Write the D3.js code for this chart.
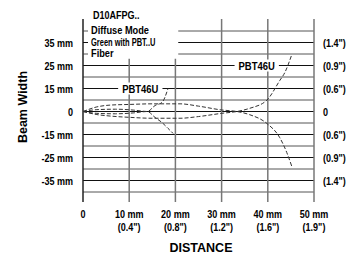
<!DOCTYPE html>
<html>
<head>
<meta charset="utf-8">
<script src="https://cdn.jsdelivr.net/npm/d3@7"></script>
<style>
  body { margin: 0; background: #fff; }
  text { font-family: "Liberation Sans", Arial, sans-serif; font-weight: bold; fill: #000; }
</style>
</head>
<body>
<div id="chart"></div>
<script>
// distance axis
const distTicks = [0, 10, 20, 30, 40, 50]
const distLabels = ["0", "10 mm", "20 mm", "30 mm", "40 mm", "50 mm"]
const distInch = ["", "(0.4\")", "(0.8\")", "(1.2\")", "(1.6\")", "(1.9\")"]

// beam width axis (grid is evenly spaced but the values are not)
const gridLevels = [40, 35, 30, 25, 20, 15, 7.5, 0, -7.5, -15, -20, -25, -30, -35, -40]
const labelLevels = [35, 25, 15, 0, -15, -25, -35]
const leftLabels = ["35 mm", "25 mm", "15 mm", "0", "-15 mm", "-25 mm", "-35 mm"]
const rightLabels = ["(1.4\")", "(0.9\")", "(0.6\")", "0", "(0.6\")", "(0.9\")", "(1.4\")"]

const legendLines = ["Diffuse Mode", "Green with PBT..U", "Fiber"]
const legendLevels = [40, 35, 30]

// PBT46U wide beam, [distance mm, width mm]
const beamUp = [[0, 0], [3, -2], [6, -3], [10, -3.8], [15, -4.4], [21, -4.4], [25, -3.3], [30, -1.2],
  [33.3, 0], [36, 2], [39.8, 7.4], [42.6, 18.5], [43.7, 22], [45.2, 29.8]]
const beamDown = [[0, 0], [3, 3], [6, 4.2], [10, 4.6], [15, 5], [21, 5], [25, 3.5], [30, 1],
  [33.3, 0], [36, -2], [39.8, -7.8], [42.6, -16.4], [44.1, -22.8], [45.2, -28.9]]
// PBT46U focused beam
const focusUp = [[0, 0], [3, 1.2], [7, 1.5], [11, 0.9], [13.9, 0], [15.6, 3.9], [17.1, 5.9], [18.4, 15]]
const focusDown = [[0, 0], [3, -1.2], [7, -1.5], [11, -0.9], [13.9, 0], [15.6, -3.9], [17.1, -7.2], [18.4, -11], [19.5, -14.3]]

const w = 356
const h = 254
const pLeft = 83, pRight = 314
const pTop = 31, step = 11.5

const svg = d3.select("#chart").append("svg")
    .attr("width", w)
    .attr("height", h)

const xScale = d3.scaleLinear().domain([0, 50]).range([pLeft, pRight])
const yScale = d3.scaleLinear()
    .domain(gridLevels.slice().reverse())
    .range(gridLevels.map((d, i) => pTop + i * step).reverse())

const yTop = pTop - 12
const yBottom = yScale(-40) + 10

// squeeze text to look like a condensed face
function narrow(sel, f) {
    sel.each(function () {
        const len = this.getComputedTextLength()
        if (len > 0) d3.select(this).attr("textLength", len * (f || 0.82)).attr("lengthAdjust", "spacingAndGlyphs")
    })
}

// horizontal grid
svg.append("g").selectAll("line")
    .data(gridLevels)
    .enter().append("line")
    .attr("x1", pLeft).attr("x2", pRight)
    .attr("y1", d => yScale(d)).attr("y2", d => yScale(d))
    .attr("stroke", d => labelLevels.includes(d) ? "#111" : "#555")
    .attr("stroke-width", 1)

// vertical grid
svg.append("g").selectAll("line")
    .data(distTicks)
    .enter().append("line")
    .attr("x1", d => xScale(d)).attr("x2", d => xScale(d))
    .attr("y1", yTop).attr("y2", yBottom)
    .attr("stroke", d => d == 0 ? "#222" : "#777")
    .attr("stroke-width", 1.5)

// legend block covers the top-left grid
svg.append("rect")
    .attr("x", pLeft + 1).attr("y", yTop - 1)
    .attr("width", xScale(20.4) - pLeft).attr("height", yScale(27.5) - yTop)
    .attr("fill", "#fff")

svg.append("text")
    .attr("x", pLeft + 10).attr("y", 18.5)
    .style("font-size", "11px")
    .text("D10AFPG..")
    .call(narrow)

legendLines.forEach((t, i) => {
    const y = yScale(legendLevels[i])
    svg.append("line")
        .attr("x1", pLeft).attr("x2", pLeft + 5)
        .attr("y1", y).attr("y2", y)
        .attr("stroke", i == 1 ? "#111" : "#555")
    svg.append("text")
        .attr("x", pLeft + 8).attr("y", y + 3)
        .style("font-size", "11px")
        .text(t)
        .call(narrow, i == 1 ? 0.68 : 0.84)
})

// beam curves
const line = d3.line()
    .x(d => xScale(d[0]))
    .y(d => yScale(d[1]))
    .curve(d3.curveMonotoneX)

svg.append("g").selectAll("path")
    .data([beamUp, beamDown, focusUp, focusDown])
    .enter().append("path")
    .attr("d", line)
    .attr("fill", "none")
    .attr("stroke", "#333")
    .attr("stroke-width", 1)
    .attr("stroke-dasharray", "4,2")

// curve labels with white background
function curveLabel(x, y, t) {
    const g = svg.append("g")
    const bg = g.append("rect").attr("fill", "#fff")
    const txt = g.append("text")
        .attr("x", x).attr("y", y + 4)
        .attr("text-anchor", "middle")
        .style("font-size", "11px")
        .text(t)
        .call(narrow, 0.86)
    const b = txt.node().getBBox()
    bg.attr("x", b.x - 4).attr("y", b.y).attr("width", b.width + 8).attr("height", b.height)
}
curveLabel(xScale(12.4), yScale(15), "PBT46U")
curveLabel(xScale(37.6), yScale(25), "PBT46U")

// tick labels
svg.append("g").selectAll("text")
    .data(labelLevels)
    .enter().append("text")
    .attr("x", pLeft - 10).attr("y", d => yScale(d) + 4)
    .attr("text-anchor", "end")
    .style("font-size", "11px")
    .text((d, i) => leftLabels[i])
    .call(narrow)

svg.append("g").selectAll("text")
    .data(labelLevels)
    .enter().append("text")
    .attr("x", pRight + 9).attr("y", d => yScale(d) + 4)
    .style("font-size", "11px")
    .text((d, i) => rightLabels[i])
    .call(narrow)

svg.append("g").selectAll("text")
    .data(distTicks)
    .enter().append("text")
    .attr("x", d => xScale(d)).attr("y", 217.5)
    .attr("text-anchor", "middle")
    .style("font-size", "11px")
    .text((d, i) => distLabels[i])
    .call(narrow)

svg.append("g").selectAll("text")
    .data(distTicks)
    .enter().append("text")
    .attr("x", d => xScale(d)).attr("y", 231)
    .attr("text-anchor", "middle")
    .style("font-size", "11px")
    .text((d, i) => distInch[i])
    .call(narrow)

// axis titles
svg.append("text")
    .attr("x", 201).attr("y", 251.5)
    .attr("text-anchor", "middle")
    .style("font-size", "12.5px")
    .text("DISTANCE")

svg.append("text")
    .attr("transform", "translate(26.5,107) rotate(-90)")
    .attr("text-anchor", "middle")
    .style("font-size", "12.5px")
    .text("Beam Width")
</script>
</body>
</html>
